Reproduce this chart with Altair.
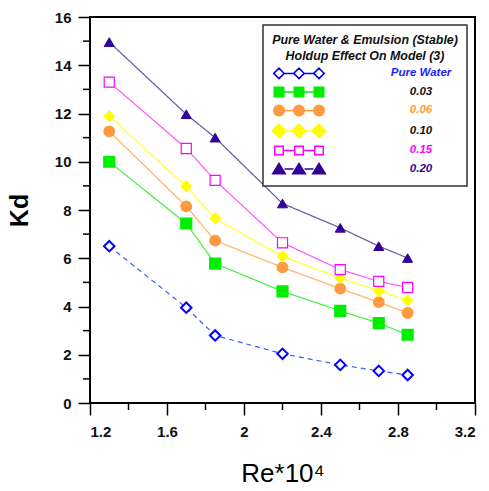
import altair as alt
import pandas as pd

re_x = [1.3, 1.7, 1.85, 2.2, 2.5, 2.7, 2.85]
series_names = ["Pure Water", "0.03", "0.06", "0.10", "0.15", "0.20"]
kd_pure = [6.5, 3.95, 2.8, 2.04, 1.58, 1.33, 1.16]
kd_003 = [10.0, 7.44, 5.78, 4.63, 3.82, 3.31, 2.83]
kd_006 = [11.26, 8.15, 6.73, 5.62, 4.74, 4.18, 3.73]
kd_010 = [11.89, 8.98, 7.65, 6.08, 5.18, 4.65, 4.25]
kd_015 = [13.3, 10.55, 9.23, 6.64, 5.53, 5.04, 4.79]
kd_020 = [14.96, 11.97, 11.0, 8.27, 7.26, 6.5, 6.01]

x_major = [1.2, 1.6, 2.0, 2.4, 2.8, 3.2]
x_minor = [1.4, 1.8, 2.2, 2.6, 3.0]
y_major = [0, 2, 4, 6, 8, 10, 12, 14, 16]
y_minor = [1, 3, 5, 7, 9, 11, 13, 15]

rows = []
for name, vals in zip(series_names, [kd_pure, kd_003, kd_006, kd_010, kd_015, kd_020]):
    for xv, yv in zip(re_x, vals):
        rows.append({"series": name, "re": xv, "kd": yv})
df = pd.DataFrame(rows)

line_colors = ["#3a5cff", "#44ee44", "#ffb060", "#ffff33", "#ff55ff", "#5a5aa0"]
point_stroke = ["#0000ff", "#00ee00", "#ff9a40", "#ffff00", "#ff00ff", "#330099"]
point_fill = ["#ffffff", "#00ee00", "#ff9a40", "#ffff00", "#ffffff", "#330099"]
point_shapes = ["diamond", "square", "circle", "diamond", "square", "triangle-up"]
point_sizes = [110, 100, 115, 180, 70, 140]
point_sw = [2, 1, 1, 1, 2, 1]
dashes = [[5, 4], [1, 0], [1, 0], [1, 0], [1, 0], [1, 0]]

SHIFT = -1.2
CENTERS = [SHIFT, SHIFT + 4, SHIFT + 8]


def diamond(c, r):
    return f"M{c - r},0L{c},{-r}L{c + r},0L{c},{r}Z"


def square(c, r):
    return f"M{c - r},{-r}L{c + r},{-r}L{c + r},{r}L{c - r},{r}Z"


def circle(c, r):
    return f"M{c - r},0A{r},{r},0,1,0,{c + r},0A{r},{r},0,1,0,{c - r},0Z"


def tri(c, r):
    return f"M{c},{-r}L{c + r * 1.15},{r * 0.9}L{c - r * 1.15},{r * 0.9}Z"


def legend_path(fn, r):
    marks = "".join(fn(c, r) for c in CENTERS)
    a, b, c = CENTERS
    segs = f"M{a + r},0L{b - r},0M{b + r},0L{c - r},0"
    return marks + segs


legend_paths = [
    legend_path(diamond, 1.05),
    legend_path(square, 0.95),
    legend_path(circle, 1.05),
    legend_path(diamond, 1.35),
    legend_path(square, 0.85),
    legend_path(tri, 1.1),
]

W, H = 385, 386
x_scale = alt.Scale(domain=[1.2, 3.2], nice=False, zero=False)
y_scale = alt.Scale(domain=[0, 16], nice=False)

x_enc = alt.X(
    "re:Q",
    scale=x_scale,
    axis=alt.Axis(
        values=x_major, format=".1~f", title="Re*10⁴", tickSize=12, labelPadding=9,
        titlePadding=21, titleFontSize=26, titleFontWeight="normal", grid=False,
    ),
)
y_enc = alt.Y(
    "kd:Q",
    scale=y_scale,
    axis=alt.Axis(
        values=y_major, title="Kd", tickSize=12, labelPadding=7, titlePadding=22,
        titleFontSize=25, titleFontWeight="bold", grid=False,
    ),
)

base = alt.Chart(df)

lines = base.mark_line(strokeWidth=1.2).encode(
    x=x_enc,
    y=y_enc,
    color=alt.Color("series:N", scale=alt.Scale(domain=series_names, range=line_colors), legend=None),
    strokeDash=alt.StrokeDash("series:N", scale=alt.Scale(domain=series_names, range=dashes), legend=None),
    detail="series:N",
)

points = base.mark_point(filled=False, opacity=1).encode(
    x=alt.X("re:Q", scale=x_scale),
    y=alt.Y("kd:Q", scale=y_scale),
    shape=alt.Shape("series:N", scale=alt.Scale(domain=series_names, range=point_shapes), legend=None),
    fill=alt.Fill("series:N", scale=alt.Scale(domain=series_names, range=point_fill), legend=None),
    stroke=alt.Stroke("series:N", scale=alt.Scale(domain=series_names, range=point_stroke), legend=None),
    size=alt.Size("series:N", scale=alt.Scale(domain=series_names, range=point_sizes), legend=None),
    strokeWidth=alt.StrokeWidth("series:N", scale=alt.Scale(domain=series_names, range=point_sw), legend=None),
)

label_color_expr = (
    "datum.label == 'Pure Water' ? '#2222ff' : datum.label == '0.06' ? '#ff9933' : "
    "datum.label == '0.15' ? '#ff00ff' : datum.label == '0.20' ? '#2e0a8c' : '#111111'"
)

leg = alt.Legend(
    title=["Pure Water & Emulsion (Stable)", "Holdup  Effect On Model (3)"],
    orient="none",
    legendX=173,
    legendY=8,
    fillColor="white",
    strokeColor="#333333",
    padding=9,
    titleFont="Liberation Sans",
    titleFontSize=12.4,
    titleFontWeight="bold",
    titleFontStyle="italic",
    titleColor="#111111",
    titleAnchor="middle",
    titleAlign="center",
    titleLineHeight=16,
    titlePadding=5,
    titleLimit=300,
    labelFont="Liberation Sans",
    labelFontSize=11.5,
    labelFontWeight="bold",
    labelFontStyle="italic",
    labelAlign="center",
    labelOffset=130,
    labelLimit=200,
    labelColor=alt.ExprRef(expr=label_color_expr),
    symbolSize=100,
    symbolStrokeWidth=1.5,
    rowPadding=1.5,
)

legend_layer = base.transform_filter("false").mark_point(filled=False, opacity=1).encode(
    x=alt.X("re:Q", scale=x_scale),
    y=alt.Y("kd:Q", scale=y_scale),
    shape=alt.Shape("series:N", scale=alt.Scale(domain=series_names, range=legend_paths), legend=leg),
    fill=alt.Fill("series:N", scale=alt.Scale(domain=series_names, range=point_fill), legend=leg),
    stroke=alt.Stroke("series:N", scale=alt.Scale(domain=series_names, range=point_stroke), legend=leg),
)

x_minor_ticks = alt.Chart(pd.DataFrame({"v": x_minor})).mark_rule(color="black", strokeWidth=1.5).encode(
    x=alt.X("v:Q", scale=x_scale), y=alt.value(H), y2=alt.value(H + 7)
)
y_minor_ticks = alt.Chart(pd.DataFrame({"v": y_minor})).mark_rule(color="black", strokeWidth=1.5).encode(
    y=alt.Y("v:Q", scale=y_scale), x=alt.value(0), x2=alt.value(-7)
)

chart = (
    alt.layer(lines, points, legend_layer, x_minor_ticks, y_minor_ticks)
    .resolve_scale(shape="independent", fill="independent", stroke="independent")
    .properties(
        width=W,
        height=H,
        autosize=alt.AutoSizeParams(type="none"),
        padding={"left": 90, "top": 17, "right": 14, "bottom": 88},
        background="white",
    )
    .configure_view(stroke="black", strokeWidth=2)
    .configure_axis(
        domain=False,
        tickColor="black",
        tickWidth=1.5,
        labelFont="Liberation Sans",
        labelFontSize=15,
        labelFontWeight="bold",
        labelColor="#111111",
        titleFont="Liberation Sans",
        titleColor="black",
    )
    .configure_legend(strokeWidth=1.5)
)

chart.save("out.html", embed_options={"renderer": "svg", "actions": False})
